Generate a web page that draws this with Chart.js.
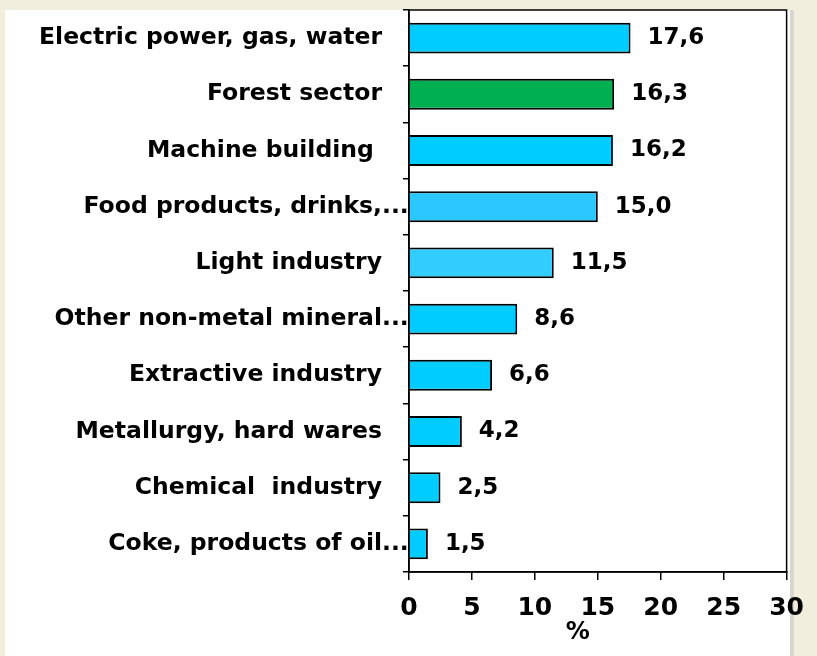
<!DOCTYPE html>
<html>
<head>
<meta charset="utf-8">
<script src="https://cdn.jsdelivr.net/npm/chart.js@4.4.1/dist/chart.umd.min.js"></script>
<style>
  html, body { margin: 0; padding: 0; background: #f2eedd; }
  canvas { display: block; }
</style>
</head>
<body>
<canvas id="myChart" width="817" height="656"></canvas>
<script>
const categories = [
    'Electric power, gas, water',
    'Forest sector',
    'Machine building ',
    'Food products, drinks,...',
    'Light industry',
    'Other non-metal mineral...',
    'Extractive industry',
    'Metallurgy, hard wares',
    'Chemical  industry',
    'Coke, products of oil...'
];
const shares = [17.6, 16.3, 16.2, 15.0, 11.5, 8.6, 6.6, 4.2, 2.5, 1.5];
const barColors = ['#00ccff', '#00b050', '#00ccff', '#2bc8ff', '#33ccff', '#00ccff', '#00ccff', '#00ccff', '#00ccff', '#00ccff'];
const xTicks = [0, 5, 10, 15, 20, 25, 30];

const FONT = '"DejaVu Sans", sans-serif';

// white slide panel behind the chart
const panel = {
    id: 'panel',
    beforeDraw(chart) {
        const c = chart.ctx;
        c.save();
        c.fillStyle = '#d8d6cf';
        c.fillRect(790, 10, 4, 646);
        c.fillStyle = '#ffffff';
        c.fillRect(5, 10, 785, 646);
        c.restore();
    }
};

// category labels, value labels, box and the "%" title
const labelsPlugin = {
    id: 'labelsPlugin',
    afterDraw(chart) {
        const c = chart.ctx;
        const y = chart.scales.y;
        const x = chart.scales.x;
        const area = chart.chartArea;
        c.save();
        c.fillStyle = '#000';
        c.textBaseline = 'middle';

        // category labels (dots of cut labels run past the text box)
        c.font = 'bold 23.5px ' + FONT;
        const edge = area.left - 27;
        categories.forEach((lab, i) => {
            const py = y.getPixelForTick(i);
            if (lab.endsWith('...')) {
                const main = lab.slice(0, -3);
                c.textAlign = 'right';
                c.fillText(main, edge, py);
                c.textAlign = 'left';
                c.fillText('...', edge, py);
            } else {
                c.textAlign = 'right';
                c.fillText(lab, edge, py);
            }
        });

        // value labels
        c.font = 'bold 23px ' + FONT;
        c.textAlign = 'left';
        chart.getDatasetMeta(0).data.forEach((bar, i) => {
            c.fillText(shares[i].toFixed(1).replace('.', ','), bar.x + 17, bar.y);
        });

        // box around the plot
        c.strokeStyle = '#000';
        c.lineWidth = 1.5;
        c.strokeRect(area.left, area.top, area.right - area.left, area.bottom - area.top);

        // axis title
        c.font = 'bold 24px ' + FONT;
        c.textAlign = 'center';
        c.fillText('%', x.getPixelForValue(13.4), 633);
        c.restore();
    }
};

const ctx = document.getElementById('myChart').getContext('2d');
const myChart = new Chart(ctx, {
    type: 'bar',
    data: {
        labels: categories,
        datasets: [{
            data: shares,
            backgroundColor: barColors,
            borderColor: '#000',
            borderWidth: 2,
            categoryPercentage: 1,
            barPercentage: 0.55
        }]
    },
    options: {
        indexAxis: 'y',
        responsive: false,
        animation: false,
        layout: {
            padding: { top: 10, right: 27, left: 0, bottom: 0 }
        },
        scales: {
            x: {
                min: 0,
                max: 30,
                afterBuildTicks: (scale) => {
                    scale.ticks = xTicks.map(v => ({ value: v }));
                },
                afterFit: (scale) => { scale.height = 84; },
                grid: {
                    drawOnChartArea: false,
                    drawTicks: true,
                    tickLength: 8,
                    color: '#000',
                    lineWidth: 1.5
                },
                border: { display: true, color: '#000', width: 1.5 },
                ticks: {
                    color: '#000',
                    padding: 13,
                    maxRotation: 0,
                    font: { family: FONT, size: 25, weight: 'bold' }
                }
            },
            y: {
                afterFit: (scale) => { scale.width = 409; },
                grid: {
                    drawOnChartArea: false,
                    drawTicks: true,
                    tickLength: 6,
                    color: '#000',
                    lineWidth: 1.5
                },
                border: { display: true, color: '#000', width: 1.5 },
                ticks: { display: false }
            }
        },
        plugins: {
            legend: { display: false },
            tooltip: { enabled: false }
        }
    },
    plugins: [panel, labelsPlugin]
});
</script>
</body>
</html>
